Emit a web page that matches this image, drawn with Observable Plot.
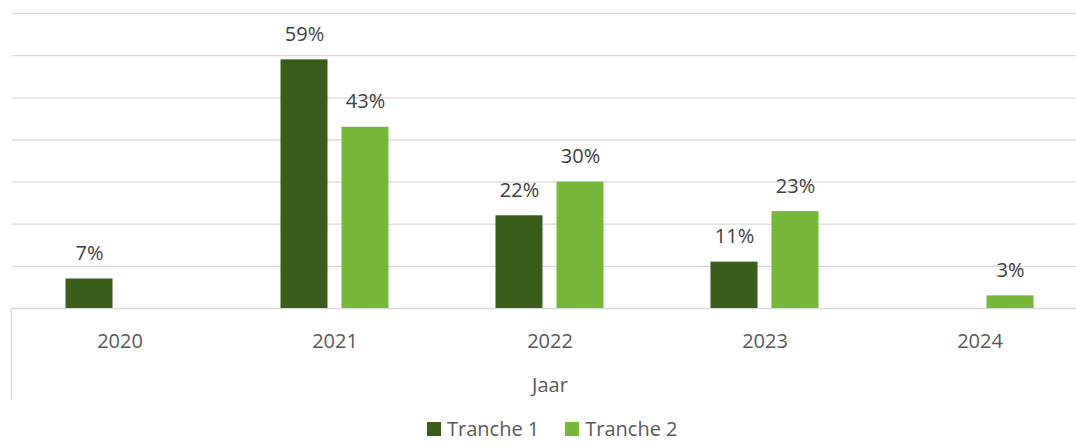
<!DOCTYPE html>
<html>
<head>
<meta charset="utf-8">
<script src="https://cdn.jsdelivr.net/npm/d3@7"></script>
<script src="https://cdn.jsdelivr.net/npm/@observablehq/plot@0.6"></script>
<style>
  html, body { margin: 0; padding: 0; background: #fff; overflow: hidden; }
  #wrap { position: relative; width: 1076px; height: 446px; }
  #legend { position: absolute; left: 427px; top: 419px; font: 20px/20px "Open Sans", sans-serif; color: #595959; white-space: nowrap; }
  #legend .sw { display: inline-block; width: 14px; height: 14px; margin-right: 6px; vertical-align: baseline; }
  #legend .item2 { margin-left: 26px; }
</style>
</head>
<body>
<div id="wrap"><div id="chart"></div><div id="legend"></div></div>
<script>
const years = ["2020", "2021", "2022", "2023", "2024"];
const seriesNames = ["Tranche 1", "Tranche 2"];
const tranche1 = [7, 59, 22, 11, null];
const tranche2 = [null, 43, 30, 23, 3];
const colors = ["#3A5D1B", "#76B83A"];
const yTicks = [0, 10, 20, 30, 40, 50, 60, 70];
const xLabel = "Jaar";

const table = [];
years.forEach((yr, i) => {
  [tranche1, tranche2].forEach((s, j) => {
    if (s[i] != null) table.push({year: yr, tranche: seriesNames[j], value: s[i]});
  });
});

const plot = Plot.plot({
  width: 1076,
  height: 410,
  marginTop: 13,
  marginBottom: 102,
  marginLeft: 11.5,
  marginRight: -10.5,
  style: {fontFamily: "'Open Sans', sans-serif", background: "#fff"},
  fx: {domain: years, paddingInner: 0, paddingOuter: 0, label: null},
  x: {domain: seriesNames, paddingInner: 0.2258, paddingOuter: 0.847, axis: null},
  y: {domain: [0, 70], axis: null},
  color: {domain: seriesNames, range: colors},
  marks: [
    Plot.gridY(yTicks, {stroke: "#d9d9d9", strokeOpacity: 1, strokeWidth: 1.3}),
    Plot.barY(table, {fx: "year", x: "tranche", y: "value", fill: "tranche"}),
    Plot.text(table, {fx: "year", x: "tranche", y: "value", text: d => d.value + "%",
      lineAnchor: "bottom", dy: -19, fontSize: 20, fill: "#404040"}),
    Plot.axisFx({anchor: "bottom", tickSize: 0, tickPadding: 25, fontSize: 20, fill: "#595959", label: null}),
    Plot.text([{year: years[2], t: xLabel}], {fx: "year", text: "t", frameAnchor: "bottom",
      lineAnchor: "bottom", dy: 83, fontSize: 20, fill: "#595959"})
  ]
});
document.getElementById("chart").appendChild(plot);

// left category-axis boundary line
const fxRange = plot.scale("fx").range;
const y0 = plot.scale("y").apply(0);
d3.select(plot).append("line")
  .attr("x1", fxRange[0]).attr("x2", fxRange[0])
  .attr("y1", y0).attr("y2", 400)
  .attr("stroke", "#d9d9d9").attr("stroke-width", 1.3);

const legend = d3.select("#legend");
seriesNames.forEach((n, i) => {
  const item = legend.append("span").attr("class", i ? "item2" : "item1");
  item.append("span").attr("class", "sw").style("background", colors[i]);
  item.append("span").text(n);
});
</script>
</body>
</html>
